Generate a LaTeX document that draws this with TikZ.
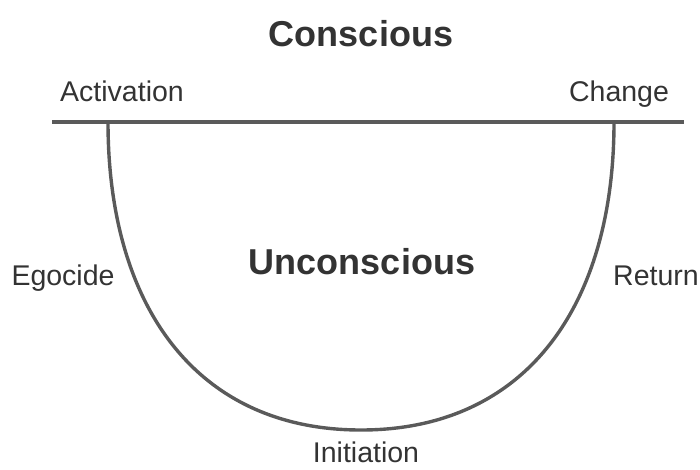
\documentclass[tikz,border=0pt]{standalone}
\usepackage{fontspec}
\setmainfont{Liberation Sans}
\definecolor{linegray}{HTML}{5A5A5A}
\definecolor{textgray}{HTML}{333333}
\tikzset{
  lbl/.style={anchor=base, inner sep=0pt, text=textgray, font=\fontsize{28.5}{28.5}\selectfont},
  big/.style={anchor=base, inner sep=0pt, text=textgray, font=\fontsize{36}{36}\selectfont\bfseries},
  curveline/.style={draw=linegray, line width=3.4pt}
}
\begin{document}
\begin{tikzpicture}[x=1pt,y=-1pt]
\useasboundingbox (0,0) rectangle (700,469);
\node[big] (conscious) at (361,46) {Conscious};
\node[big] (unconscious) at (362,274) {Unconscious};
\node[lbl] (activation) at (122,101) {Activation};
\node[lbl] (change) at (619,101) {Change};
\node[lbl] (egocide) at (63,285) {Egocide};
\node[lbl] (return) at (656,285) {Return};
\node[lbl] (initiation) at (366,462) {Initiation};
\coordinate (lineL) at (52,122);
\coordinate (lineR) at (684,122);
\coordinate (cL) at (108,122);
\coordinate (cB) at (361,430);
\coordinate (cR) at (614,122);
\draw[curveline] (lineL) -- (lineR);
\draw[curveline] (cL) .. controls (108,307) and (197,430) .. (cB)
  .. controls (525,430) and (614,307) .. (cR);
\end{tikzpicture}
\end{document}
